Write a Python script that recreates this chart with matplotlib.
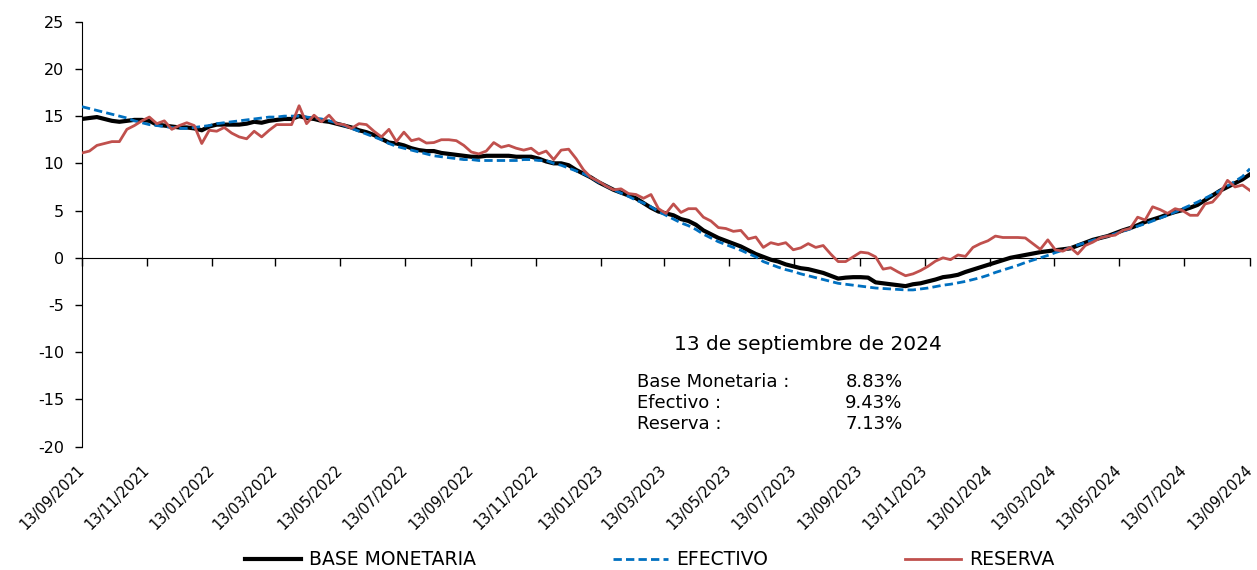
import matplotlib
matplotlib.use("Agg")
import matplotlib.pyplot as plt
import matplotlib.dates as mdates
import pandas as pd

plt.rcParams["axes.unicode_minus"] = False

# variacion anual (%), datos semanales 13/09/2021 - 13/09/2024
base_monetaria = [
    14.7, 14.8, 14.9, 14.7, 14.5, 14.4, 14.5, 14.6, 14.6, 14.5,
    14.1, 14.0, 13.9, 13.8, 13.8, 13.7, 13.5, 13.9, 14.1, 14.1,
    14.1, 14.1, 14.2, 14.4, 14.3, 14.5, 14.6, 14.7, 14.7, 15.0,
    14.8, 14.7, 14.5, 14.4, 14.2, 14.0, 13.8, 13.5, 13.3, 13.0,
    12.6, 12.2, 12.1, 11.9, 11.6, 11.4, 11.3, 11.3, 11.1, 11.0,
    10.9, 10.8, 10.7, 10.7, 10.8, 10.8, 10.8, 10.8, 10.7, 10.7,
    10.7, 10.5, 10.2, 10.0, 10.0, 9.8, 9.3, 8.9, 8.5, 8.0,
    7.6, 7.2, 6.9, 6.6, 6.3, 5.8, 5.3, 4.9, 4.7, 4.5,
    4.1, 3.9, 3.5, 2.9, 2.5, 2.1, 1.8, 1.5, 1.2, 0.8,
    0.4, 0.1, -0.2, -0.4, -0.7, -0.9, -1.1, -1.2, -1.4, -1.6,
    -1.9, -2.2, -2.1, -2.05, -2.05, -2.1, -2.6, -2.7, -2.8, -2.9,
    -3.0, -2.8, -2.7, -2.5, -2.3, -2.05, -1.95, -1.8, -1.5, -1.25,
    -1.0, -0.75, -0.5, -0.25, 0.0, 0.15, 0.3, 0.45, 0.6, 0.7,
    0.8, 0.9, 1.0, 1.3, 1.6, 1.9, 2.1, 2.3, 2.6, 2.9,
    3.15, 3.45, 3.8, 4.05, 4.3, 4.6, 4.85, 5.05, 5.3, 5.6,
    6.1, 6.6, 7.1, 7.5, 7.9, 8.3, 8.83,
]
efectivo = [
    16.0, 15.8, 15.6, 15.4, 15.2, 15.0, 14.8, 14.5, 14.3, 14.1,
    14.0, 13.9, 13.8, 13.7, 13.7, 13.8, 13.9, 14.0, 14.2, 14.3,
    14.4, 14.5, 14.6, 14.7, 14.8, 14.9, 14.9, 15.0, 15.0, 15.0,
    14.9, 14.8, 14.7, 14.5, 14.3, 14.0, 13.7, 13.4, 13.1, 12.8,
    12.5, 12.1, 11.8, 11.6, 11.4, 11.2, 11.0, 10.8, 10.7, 10.6,
    10.5, 10.4, 10.4, 10.3, 10.3, 10.3, 10.3, 10.3, 10.3, 10.4,
    10.4, 10.3, 10.3, 10.0, 9.8, 9.5, 9.2, 8.9, 8.5, 8.0,
    7.6, 7.2, 6.85, 6.5, 6.1, 5.8, 5.4, 4.9, 4.5, 4.1,
    3.7, 3.4, 3.0, 2.5, 2.1, 1.7, 1.4, 1.1, 0.8, 0.45,
    0.1, -0.4, -0.7, -1.0, -1.25, -1.45, -1.7, -1.9, -2.1, -2.3,
    -2.5, -2.7, -2.8, -2.9, -3.0, -3.1, -3.2, -3.25, -3.3, -3.35,
    -3.4, -3.4, -3.3, -3.2, -3.05, -2.9, -2.8, -2.65, -2.5, -2.3,
    -2.1, -1.85, -1.55, -1.3, -1.05, -0.8, -0.5, -0.25, 0.0, 0.25,
    0.55, 0.8, 1.05, 1.35, 1.6, 1.85, 2.1, 2.3, 2.55, 2.8,
    3.05, 3.35, 3.6, 3.9, 4.2, 4.5, 4.85, 5.2, 5.55, 5.9,
    6.3, 6.7, 7.1, 7.6, 8.1, 8.6, 9.43,
]
reserva = [
    11.1, 11.3, 11.9, 12.1, 12.3, 12.3, 13.6, 14.0, 14.5, 14.9,
    14.2, 14.5, 13.6, 14.0, 14.3, 14.0, 12.1, 13.5, 13.4, 13.8,
    13.2, 12.8, 12.6, 13.4, 12.8, 13.5, 14.1, 14.1, 14.1, 16.1,
    14.2, 15.1, 14.4, 15.1, 14.2, 14.1, 13.7, 14.2, 14.1, 13.4,
    12.8, 13.6, 12.3, 13.3, 12.4, 12.6, 12.15, 12.2, 12.5, 12.5,
    12.4, 11.9, 11.2, 11.0, 11.3, 12.2, 11.7, 11.9, 11.6, 11.4,
    11.6, 11.0, 11.3, 10.4, 11.4, 11.5, 10.5, 9.3, 8.5, 8.1,
    7.6, 7.2, 7.3, 6.8, 6.7, 6.3, 6.7, 5.2, 4.7, 5.7,
    4.8, 5.2, 5.2, 4.3, 3.9, 3.2, 3.1, 2.8, 2.9, 2.0,
    2.2, 1.1, 1.6, 1.4, 1.6, 0.85, 1.05, 1.5, 1.1, 1.3,
    0.4, -0.4, -0.4, 0.1, 0.6, 0.5, 0.1, -1.2, -1.05, -1.5,
    -1.9, -1.7, -1.35, -0.9, -0.35, 0.0, -0.2, 0.3, 0.15, 1.1,
    1.5, 1.8, 2.3, 2.15, 2.15, 2.15, 2.1, 1.5, 0.9, 1.9,
    0.85, 0.7, 1.1, 0.4, 1.3, 1.65, 2.1, 2.3, 2.4, 2.9,
    3.1, 4.3, 4.0, 5.4, 5.1, 4.7, 5.2, 5.0, 4.5, 4.5,
    5.7, 5.9, 6.8, 8.2, 7.5, 7.7, 7.13,
]

tick_labels = [
    "13/09/2021", "13/11/2021", "13/01/2022", "13/03/2022", "13/05/2022",
    "13/07/2022", "13/09/2022", "13/11/2022", "13/01/2023", "13/03/2023",
    "13/05/2023", "13/07/2023", "13/09/2023", "13/11/2023", "13/01/2024",
    "13/03/2024", "13/05/2024", "13/07/2024", "13/09/2024",
]

fecha_corte = "13 de septiembre de 2024"
resumen = [("Base Monetaria :", "8.83%"), ("Efectivo :", "9.43%"), ("Reserva :", "7.13%")]

fechas = pd.date_range("2021-09-13", "2024-09-13", periods=len(base_monetaria))
x = mdates.date2num(fechas)
ticks = mdates.date2num(pd.to_datetime(tick_labels, format="%d/%m/%Y"))

fig = plt.figure(figsize=(12.57, 5.70), dpi=100)
ax = fig.add_axes([0.0652, 0.2163, 0.9292, 0.7457])

ax.plot(x, base_monetaria, color="black", lw=3, label="BASE MONETARIA", zorder=2)
ax.plot(x, efectivo, color="#0070C0", lw=2, dashes=(3, 1.5), label="EFECTIVO", zorder=3)
ax.plot(x, reserva, color="#C0504D", lw=2, label="RESERVA", zorder=4)

ax.set_xlim(ticks[0], ticks[-1])
ax.set_ylim(-20, 25)
ax.set_yticks(range(-20, 30, 5))
ax.tick_params(axis="y", direction="out", length=5, width=1, labelsize=11.5, pad=8)

# eje x cruzando en cero, etiquetas abajo
ax.spines["top"].set_visible(False)
ax.spines["right"].set_visible(False)
ax.spines["bottom"].set_position(("data", 0))
ax.set_xticks(ticks)
ax.tick_params(axis="x", direction="out", length=6, width=1, labelbottom=False)

sec = ax.secondary_xaxis(0)
sec.set_xticks(ticks)
sec.set_xticklabels(tick_labels, rotation=45, ha="right", va="center",
                    rotation_mode="anchor", fontsize=10.5)
sec.tick_params(length=0, pad=15)
sec.spines["bottom"].set_visible(False)

# recuadro con el ultimo dato
fig.text(0.643, 0.395, fecha_corte, fontsize=14.5, ha="center", va="center")
for i, (nombre, valor) in enumerate(resumen):
    yy = 0.330 - i * 0.037
    fig.text(0.507, yy, nombre, fontsize=13, ha="left", va="center")
    fig.text(0.718, yy, valor, fontsize=13, ha="right", va="center")

fig.legend(loc="center", bbox_to_anchor=(0.517, 0.018), ncol=3, frameon=False,
           fontsize=13.5, handlelength=2.95, handletextpad=0.45, columnspacing=7.3)

fig.savefig("out.png", dpi=100)
